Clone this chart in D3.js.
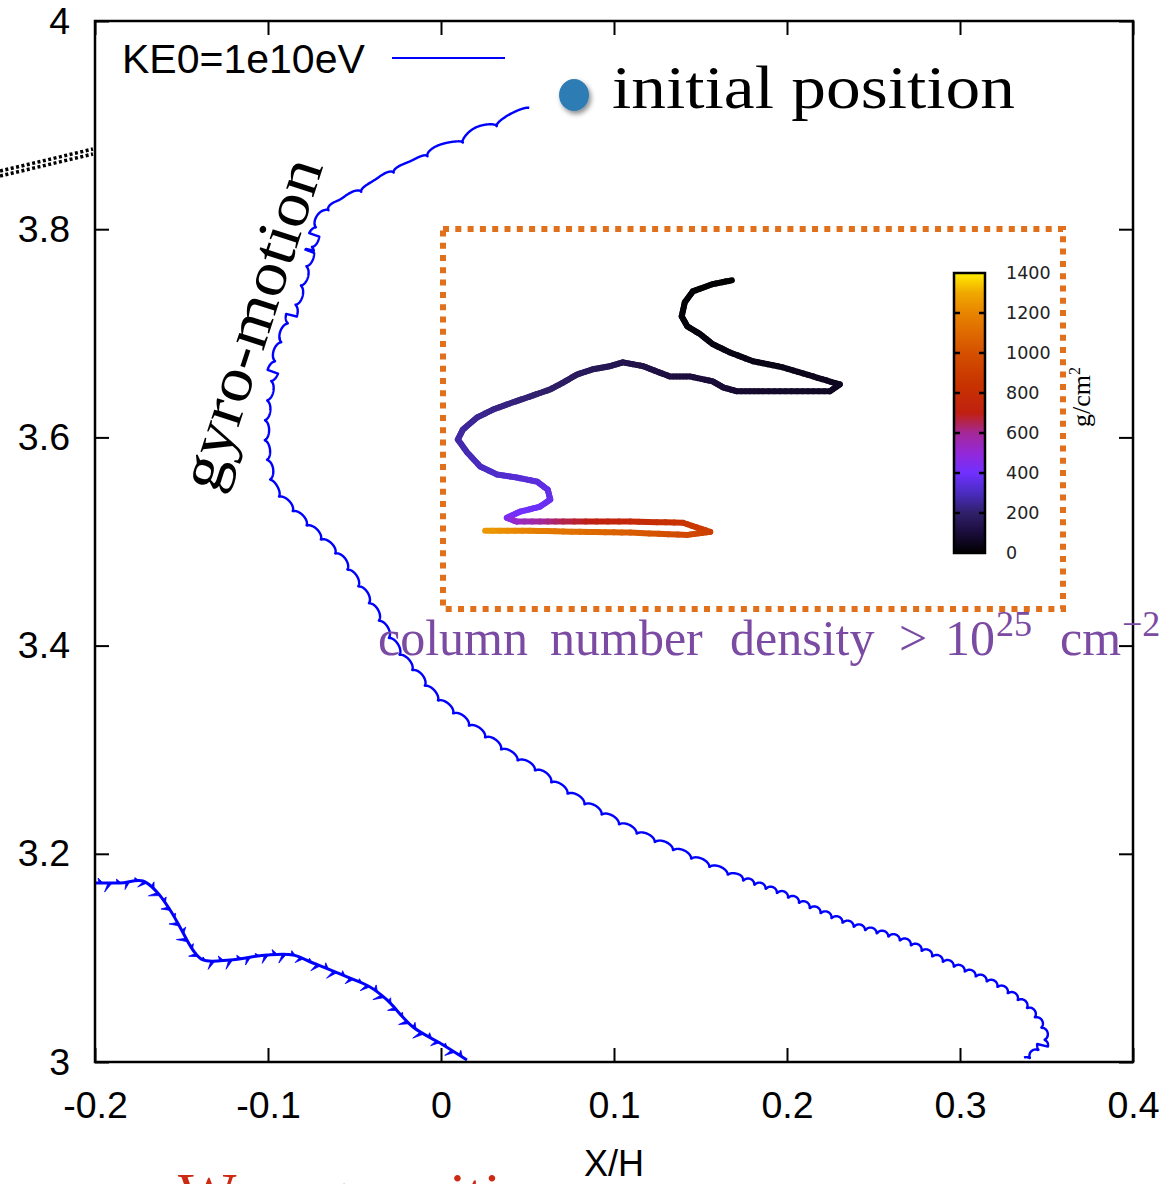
<!DOCTYPE html>
<html>
<head>
<meta charset="utf-8">
<script src="https://cdn.jsdelivr.net/npm/d3@7"></script>
<style>
  body { margin: 0; background: #fff; }
</style>
</head>
<body>
<div id="chart"></div>
<script>
// ---- data ----
// main trajectory (KE0=1e10eV), X/H and Y/H
const mainX = [0.0514, 0.0457, 0.0341, 0.0208, 0.0110, -0.0046, -0.0162, -0.0277, -0.0370, -0.0486,
  -0.0566, -0.0642, -0.0711, -0.0757, -0.0815, -0.0873, -0.0942, -0.1000, -0.1023, -0.1023,
  -0.1006, -0.0977, -0.0855, -0.0717, -0.0601, -0.0509, -0.0410, -0.0335, -0.0237, -0.0139,
  -0.0046, 0.0110, 0.0266, 0.0399, 0.0555, 0.0688, 0.0902, 0.1110, 0.1324, 0.1538,
  0.1746, 0.1977, 0.2173, 0.2364, 0.2653, 0.2884, 0.3040, 0.3231, 0.3387, 0.3474,
  0.3474, 0.3387];
const mainY = [3.9155, 3.9097, 3.9001, 3.8924, 3.8818, 3.8732, 3.8607, 3.8540, 3.8425, 3.8338,
  3.8242, 3.8194, 3.8040, 3.7800, 3.7464, 3.7128, 3.6792, 3.6455, 3.6167, 3.5927,
  3.5735, 3.5514, 3.5274, 3.5043, 3.4851, 3.4630, 3.4371, 3.4150, 3.3890, 3.3698,
  3.3506, 3.3285, 3.3093, 3.2930, 3.2776, 3.2613, 3.2392, 3.2200, 3.2037, 3.1873,
  3.1729, 3.1585, 3.1431, 3.1297, 3.1153, 3.0961, 3.0845, 3.0692, 3.0500, 3.0279,
  3.0144, 3.0000];

// second (lower left) trajectory
const lowX = [-0.2000, -0.1855, -0.1723, -0.1642, -0.1566, -0.1509, -0.1434, -0.1376, -0.1220, -0.1006,
  -0.0855, -0.0740, -0.0543, -0.0410, -0.0312, -0.0162, -0.0006, 0.0150];
const lowY = [3.1720, 3.1720, 3.1739, 3.1633, 3.1460, 3.1297, 3.1076, 3.0980, 3.0980, 3.1028,
  3.1028, 3.0951, 3.0817, 3.0720, 3.0596, 3.0336, 3.0182, 3.0019];

// dotted guide coming in from the left edge
const guideX = [-0.2549, -0.2012];
const guideYa = [3.8559, 3.8770];
const guideYb = [3.8511, 3.8722];

// initial position marker
const startX = 0.0769, startY = 3.9289;

// inset: trajectory in inset units (0-100) and column density (g/cm^2)
const insetU = [46.6, 43.5, 40.3, 39.0, 38.5, 39.4, 41.5, 43.5, 46.3, 50.0, 54.8, 59.7, 64.0, 62.4, 57.1,
  51.6, 47.4, 45.2, 43.5, 39.8, 36.6, 34.5, 32.3, 29.0, 26.9, 24.2, 21.6, 19.4, 17.3, 14.0,
  11.3, 8.1, 5.5, 3.2, 2.4, 3.9, 6.0, 8.7, 11.9, 15.2, 16.9, 17.3, 15.6, 12.4, 10.3,
  11.9, 19.4, 30.2, 38.7, 43.1, 39.4, 30.2, 22.1, 14.0, 6.8];
const insetV = [86.5, 85.5, 83.6, 80.7, 77.0, 74.4, 72.3, 69.7, 67.5, 65.2, 63.6, 61.2, 59.1, 57.3, 57.3,
  57.3, 57.3, 58.3, 59.9, 61.2, 61.2, 62.5, 63.9, 64.9, 63.9, 63.1, 61.7, 59.6, 57.8, 55.9,
  54.4, 52.5, 50.4, 47.2, 44.6, 41.2, 37.5, 35.4, 34.6, 33.5, 31.4, 28.8, 26.9, 25.6, 24.0,
  23.0, 23.0, 23.0, 22.7, 20.3, 19.5, 20.1, 20.3, 20.6, 20.6];
const insetDensity = [0, 4, 8, 12, 16, 20, 24, 28, 32, 37, 42, 48, 55, 60, 68,
  76, 84, 90, 96, 105, 112, 120, 128, 140, 150, 160, 172, 184, 195, 208,
  220, 232, 245, 258, 270, 285, 300, 315, 330, 345, 358, 370, 385, 400, 420,
  520, 650, 760, 850, 900, 960, 1040, 1110, 1180, 1260];

const xTicks = [-0.2, -0.1, 0, 0.1, 0.2, 0.3, 0.4];
const yTicks = [3, 3.2, 3.4, 3.6, 3.8, 4];
const cbTicks = [0, 200, 400, 600, 800, 1000, 1200, 1400];

// palette of the colour bar
const palVals = [0, 100, 200, 300, 400, 500, 600, 700, 850, 1000, 1200, 1300, 1400];
const palCols = ["#000000", "#1a0c3a", "#30206a", "#4a2cc0", "#7030ff", "#9428d8", "#a42898",
  "#c02010", "#c83400", "#d45000", "#e88400", "#f0a800", "#ffee00"];

// ---- layout ----
const W = 1174, H = 1184;
const plot = { left: 95, right: 1133, top: 21, bottom: 1062 };

const svg = d3.select("#chart").append("svg")
  .attr("width", W).attr("height", H)
  .style("font-family", "'Liberation Sans', Arial, sans-serif");

svg.append("rect").attr("width", W).attr("height", H).attr("fill", "#fff");

const defs = svg.append("defs");
defs.append("clipPath").attr("id", "plotclip")
  .append("rect")
  .attr("x", plot.left).attr("y", plot.top)
  .attr("width", plot.right - plot.left).attr("height", plot.bottom - plot.top);

const shadow = defs.append("filter").attr("id", "dropshadow")
  .attr("x", "-50%").attr("y", "-50%").attr("width", "200%").attr("height", "200%");
shadow.append("feDropShadow").attr("dx", 2).attr("dy", 3).attr("stdDeviation", 2.5)
  .attr("flood-color", "#000").attr("flood-opacity", 0.45);

const x = d3.scaleLinear().domain([-0.2, 0.4]).range([plot.left, plot.right]);
const y = d3.scaleLinear().domain([3, 4]).range([plot.bottom, plot.top]);

const fmt = d => (d === 0 ? "0" : String(+d.toFixed(1)));

// ---- axes: ticks point inwards on all four sides ----
const xAxis = svg.append("g")
  .attr("transform", `translate(0,${plot.bottom})`)
  .call(d3.axisBottom(x).tickValues(xTicks).tickFormat(fmt).tickSize(-14).tickPadding(29));
const yAxis = svg.append("g")
  .attr("transform", `translate(${plot.left},0)`)
  .call(d3.axisLeft(y).tickValues(yTicks).tickFormat(fmt).tickSize(-14).tickPadding(25));
svg.append("g")
  .attr("transform", `translate(0,${plot.top})`)
  .call(d3.axisTop(x).tickValues(xTicks).tickFormat("").tickSize(-14));
svg.append("g")
  .attr("transform", `translate(${plot.right},0)`)
  .call(d3.axisRight(y).tickValues(yTicks).tickFormat("").tickSize(-14));

svg.selectAll(".domain").remove();
svg.selectAll(".tick line").attr("stroke", "#000").attr("stroke-width", 2);
[xAxis, yAxis].forEach(a => a.selectAll("text")
  .attr("font-family", "'Liberation Sans', Arial, sans-serif")
  .attr("font-size", 37.5).attr("fill", "#000"));

svg.append("text")
  .attr("x", x(0.1)).attr("y", 1176)
  .attr("text-anchor", "middle")
  .attr("font-size", 36)
  .text("X/H");

// ---- trajectories ----
const smooth = d3.line().curve(d3.curveCatmullRom.alpha(0.5));

// resample a smooth curve and add the small gyration arcs along it
function gyroPoints(pts, period, amp, pref) {
  const tmp = svg.append("path").attr("d", smooth(pts)).attr("fill", "none");
  const node = tmp.node();
  const L = node.getTotalLength();
  const out = [];
  let phase = 0;
  for (let s = 0; s <= L; s += 0.5) {
    const p = node.getPointAtLength(s);
    const a = node.getPointAtLength(Math.min(L, s + 1));
    const b = node.getPointAtLength(Math.max(0, s - 1));
    let tx = a.x - b.x, ty = a.y - b.y;
    const tl = Math.hypot(tx, ty) || 1;
    tx /= tl; ty /= tl;
    let nx = -ty, ny = tx;
    if (nx * pref[0] + ny * pref[1] < 0) { nx = -nx; ny = -ny; }
    phase += 0.5 / period(p);
    const u = phase % 1;
    const h = amp * 2 * Math.sqrt(u * (1 - u));
    out.push([p.x + nx * h, p.y + ny * h]);
  }
  tmp.remove();
  return out;
}

const curves = svg.append("g").attr("clip-path", "url(#plotclip)");

const mainPts = mainX.map((d, i) => [x(d), y(mainY[i])]);
const mainGyro = gyroPoints(mainPts,
  p => (p.y < 212 ? 38 : p.y < 880 ? 20 : 12),
  5.5, [0.3, -1]);
curves.append("path")
  .attr("d", d3.line()(mainGyro))
  .attr("fill", "none")
  .attr("stroke", "#0000ff")
  .attr("stroke-width", 2.4)
  .attr("stroke-linejoin", "round");

// lower-left trajectory: thick line with short spikes
const lowPts = lowX.map((d, i) => [x(d), y(lowY[i])]);
curves.append("path")
  .attr("d", smooth(lowPts))
  .attr("fill", "none")
  .attr("stroke", "#0000ff")
  .attr("stroke-width", 3);
(function spikes() {
  const tmp = svg.append("path").attr("d", smooth(lowPts)).attr("fill", "none");
  const node = tmp.node();
  const L = node.getTotalLength();
  const lens = [5, 9, 4, 7, 3, 8];
  const segs = [];
  let k = 0;
  for (let s = 6; s < L - 2; s += 9, k++) {
    const p = node.getPointAtLength(s);
    const a = node.getPointAtLength(s + 1), b = node.getPointAtLength(s - 1);
    let tx = a.x - b.x, ty = a.y - b.y;
    const tl = Math.hypot(tx, ty) || 1;
    tx /= tl; ty /= tl;
    const sgn = k % 2 ? 1 : -1;
    const l = lens[k % lens.length];
    const tip = [p.x - ty * l * sgn - tx * l * 0.6, p.y + tx * l * sgn - ty * l * 0.6];
    segs.push([[p.x - tx * 2, p.y - ty * 2], tip, [p.x + tx * 2, p.y + ty * 2]]);
  }
  tmp.remove();
  curves.append("g").selectAll("path").data(segs).join("path")
    .attr("d", d => d3.line()(d) + "Z")
    .attr("fill", "#0000ff")
    .attr("stroke", "#0000ff")
    .attr("stroke-width", 0.8);
})();

// dotted guide line left of the frame
[guideYa, guideYb].forEach(gy => {
  svg.append("path")
    .attr("d", d3.line()(guideX.map((d, i) => [x(d), y(gy[i])])))
    .attr("fill", "none")
    .attr("stroke", "#000")
    .attr("stroke-width", 3.5)
    .attr("stroke-dasharray", "3,2.5");
});

// ---- frame ----
svg.append("rect")
  .attr("x", plot.left).attr("y", plot.top)
  .attr("width", plot.right - plot.left).attr("height", plot.bottom - plot.top)
  .attr("fill", "none").attr("stroke", "#000").attr("stroke-width", 2.5);

// ---- legend ----
svg.append("text")
  .attr("x", 122).attr("y", 73)
  .attr("font-size", 41)
  .text("KE0=1e10eV");
svg.append("line")
  .attr("x1", 392).attr("x2", 505).attr("y1", 58).attr("y2", 58)
  .attr("stroke", "#0000ff").attr("stroke-width", 2);

// ---- initial position marker ----
svg.append("ellipse")
  .attr("cx", x(startX)).attr("cy", y(startY))
  .attr("rx", 15).attr("ry", 16)
  .attr("fill", "#2f7cb4")
  .attr("filter", "url(#dropshadow)");
svg.append("text")
  .attr("x", 612).attr("y", 108)
  .attr("font-family", "'Liberation Serif', 'DejaVu Serif', serif")
  .attr("font-size", 62)
  .attr("textLength", 403).attr("lengthAdjust", "spacingAndGlyphs")
  .text("initial position");

// ---- gyro-motion label ----
svg.append("text")
  .attr("transform", "translate(270,330) rotate(-72)")
  .attr("text-anchor", "middle")
  .attr("font-family", "'Liberation Serif', 'DejaVu Serif', serif")
  .attr("font-size", 62)
  .attr("textLength", 345).attr("lengthAdjust", "spacingAndGlyphs")
  .text("gyro-motion");

// ---- inset ----
const inset = { left: 443, right: 1063, top: 229, bottom: 609 };
svg.append("rect")
  .attr("x", inset.left).attr("y", inset.top)
  .attr("width", inset.right - inset.left).attr("height", inset.bottom - inset.top)
  .attr("fill", "none")
  .attr("stroke", "#e0701c")
  .attr("stroke-width", 6)
  .attr("stroke-dasharray", "6,6.3");

const iu = d3.scaleLinear().domain([0, 100]).range([inset.left, inset.right]);
const iv = d3.scaleLinear().domain([0, 100]).range([inset.bottom, inset.top]);
const pal = d3.scaleLinear().domain(palVals).range(palCols).interpolate(d3.interpolateRgb).clamp(true);

const insetSegs = [];
for (let i = 0; i < insetU.length - 1; i++) {
  const n = 6;
  for (let j = 0; j < n; j++) {
    const t0 = j / n, t1 = (j + 1) / n;
    const u0 = insetU[i] + (insetU[i + 1] - insetU[i]) * t0;
    const u1 = insetU[i] + (insetU[i + 1] - insetU[i]) * t1;
    const v0 = insetV[i] + (insetV[i + 1] - insetV[i]) * t0;
    const v1 = insetV[i] + (insetV[i + 1] - insetV[i]) * t1;
    const c = insetDensity[i] + (insetDensity[i + 1] - insetDensity[i]) * (t0 + t1) / 2;
    insetSegs.push({ u0, u1, v0, v1, c });
  }
}
svg.append("g").selectAll("line").data(insetSegs).join("line")
  .attr("x1", d => iu(d.u0)).attr("y1", d => iv(d.v0))
  .attr("x2", d => iu(d.u1)).attr("y2", d => iv(d.v1))
  .attr("stroke", d => pal(d.c))
  .attr("stroke-width", 6)
  .attr("stroke-linecap", "round");

// colour bar
const cb = { left: 954, right: 985 };
const cbY = d3.scaleLinear().domain([0, 1400]).range([553, 273]);
const grad = defs.append("linearGradient").attr("id", "cbgrad")
  .attr("x1", 0).attr("y1", 1).attr("x2", 0).attr("y2", 0);
d3.range(0, 1401, 50).forEach(v => {
  grad.append("stop").attr("offset", v / 1400).attr("stop-color", pal(v));
});
svg.append("rect")
  .attr("x", cb.left).attr("y", cbY(1400))
  .attr("width", cb.right - cb.left).attr("height", cbY(0) - cbY(1400))
  .attr("fill", "url(#cbgrad)")
  .attr("stroke", "#000").attr("stroke-width", 2.5);
const cbG = svg.append("g");
cbG.selectAll("line.l").data(cbTicks.slice(1, -1)).join("line")
  .attr("x1", cb.left).attr("x2", cb.left + 6)
  .attr("y1", d => cbY(d)).attr("y2", d => cbY(d))
  .attr("stroke", "#000").attr("stroke-width", 2.5);
cbG.selectAll("line.r").data(cbTicks.slice(1, -1)).join("line")
  .attr("x1", cb.right - 6).attr("x2", cb.right)
  .attr("y1", d => cbY(d)).attr("y2", d => cbY(d))
  .attr("stroke", "#000").attr("stroke-width", 2.5);
cbG.selectAll("text").data(cbTicks).join("text")
  .attr("x", 1006).attr("y", d => cbY(d))
  .attr("dy", "0.36em")
  .attr("font-family", "'DejaVu Sans', sans-serif")
  .attr("font-size", 17.5)
  .attr("fill", "#222")
  .text(d => d);

const unit = svg.append("text")
  .attr("transform", "translate(1090,397) rotate(-90)")
  .attr("text-anchor", "middle")
  .attr("font-family", "'Liberation Serif', 'DejaVu Serif', serif")
  .attr("font-size", 26);
unit.append("tspan").text("g/cm");
unit.append("tspan").attr("dy", -10).attr("font-size", 16).text("2");

// ---- annotations ----
const dens = svg.append("text")
  .attr("y", 655)
  .attr("font-family", "'Liberation Serif', 'DejaVu Serif', serif")
  .attr("font-size", 50)
  .attr("fill", "#7b4aa3");
dens.append("tspan").attr("x", 378).text("column");
dens.append("tspan").attr("x", 550).text("number");
dens.append("tspan").attr("x", 730).text("density");
dens.append("tspan").attr("x", 899).text(">");
dens.append("tspan").attr("x", 945).text("10");
dens.append("tspan").attr("x", 996).attr("dy", -19).attr("font-size", 36).text("25");
dens.append("tspan").attr("x", 1060).attr("dy", 19).text("cm");
dens.append("tspan").attr("x", 1122).attr("dy", -19).attr("font-size", 36).text("\u22122");

svg.append("text")
  .attr("x", 178).attr("y", 1215)
  .attr("font-family", "'Liberation Serif', 'DejaVu Serif', serif")
  .attr("font-size", 62)
  .attr("fill", "#cc2a12")
  .text("Wrong position");
</script>
</body>
</html>
